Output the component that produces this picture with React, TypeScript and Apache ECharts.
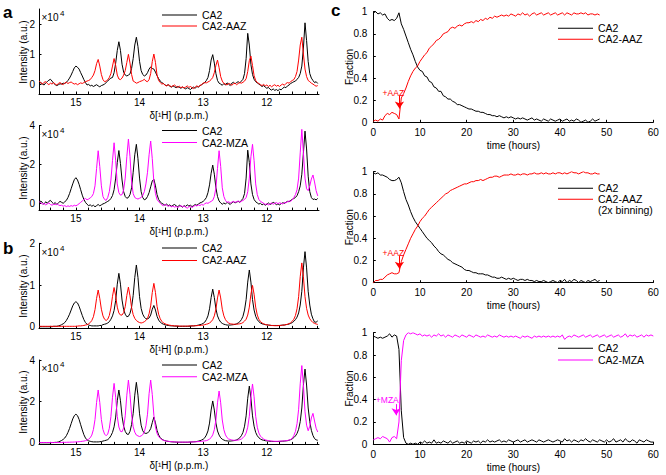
import React, { useEffect, useRef } from "react";
import * as echarts from "echarts";

const FONT = '"Liberation Sans", Arial, Helvetica, sans-serif';
const BLACK = "#000000";
const RED = "#ff0000";
const MAGENTA = "#ff00ff";

// chemical-shift sampling grid: 15.575 ppm downward in 0.025 ppm steps (176 samples)
const PPM_START = 15.575;
const PPM_STEP = 0.025;
const PPM_TICKS = [11.2, 11.4, 11.6, 11.8, 12, 12.2, 12.4, 12.6, 12.8, 13, 13.2, 13.4, 13.6, 13.8, 14, 14.2, 14.4, 14.6, 14.8, 15, 15.2, 15.4];
const PPM_LABELS = [12, 13, 14, 15];

// ---- panel a (measured), intensities in units of 1e4 ----
const aTopCA2 = [
  0.02, 0.05, 0.0, -0.03, 0.04, 0.08, 0.13, 0.16, 0.1, 0.03,
  -0.02, -0.05, -0.02, 0.01, 0.0, 0.03, 0.02, 0.06, 0.12, 0.2,
  0.3, 0.42, 0.54, 0.6, 0.56, 0.5, 0.38, 0.27, 0.15, 0.05,
  -0.03, -0.01, -0.06, -0.04, -0.08, -0.05, -0.02, -0.06, -0.09, -0.05,
  -0.03, 0.0, 0.05, 0.1, 0.16, 0.2, 0.22, 0.38, 0.7, 1.12,
  1.41, 1.12, 0.66, 0.4, 0.3, 0.27, 0.3, 0.34, 0.52, 0.85,
  1.3, 1.56, 1.25, 0.76, 0.45, 0.32, 0.27, 0.3, 0.38, 0.5,
  0.57, 0.52, 0.5, 0.4, 0.28, 0.18, 0.1, 0.05, 0.02, -0.03,
  -0.05, -0.02, -0.07, -0.1, -0.06, -0.09, -0.12, -0.08, -0.11, -0.14,
  -0.1, -0.13, -0.16, -0.12, -0.15, -0.18, -0.13, -0.1, -0.14, -0.08,
  -0.1, -0.05, -0.02, 0.02, 0.05, 0.12, 0.22, 0.45, 0.8, 0.98,
  0.7, 0.35, 0.12, 0.03, 0.0, -0.04, 0.02, -0.03, 0.04, 0.0,
  -0.05, 0.03, 0.06, 0.01, 0.05, 0.08, 0.04, 0.1, 0.16, 0.35,
  0.85, 1.69, 1.3, 0.65, 0.32, 0.16, 0.08, 0.04, 0.0, -0.04,
  -0.08, -0.05, -0.1, -0.14, -0.11, -0.17, -0.2, -0.16, -0.21, -0.18,
  -0.22, -0.17, -0.19, -0.14, -0.1, -0.12, -0.06, -0.03, 0.02, 0.05,
  0.08, 0.1, 0.16, 0.22, 0.35, 0.6, 1.2, 2.04, 1.45, 0.75,
  0.35, 0.2, 0.12, 0.05, 0.08, 0.02,
];
const aTopAAZ = [
  0.1, 0.04, 0.0, 0.06, 0.08, 0.02, -0.02, 0.03, 0.0, 0.05,
  0.0, -0.03, 0.02, 0.05, 0.01, -0.02, 0.04, 0.06, 0.02, 0.05,
  0.07, 0.03, 0.0, 0.02, -0.02, 0.01, 0.04, 0.02, 0.05, 0.08,
  0.1, 0.12, 0.15, 0.22, 0.3, 0.45, 0.68, 0.82, 0.6, 0.32,
  0.15, 0.08, 0.1, 0.14, 0.22, 0.35, 0.6, 0.85, 0.62, 0.3,
  0.17, 0.15, 0.2, 0.3, 0.45, 0.72, 0.99, 0.7, 0.32, 0.1,
  0.07, 0.03, 0.05, 0.08, 0.1, 0.12, 0.16, 0.1, 0.08, 0.15,
  0.35, 0.75, 1.0, 0.72, 0.3, 0.12, 0.05, 0.0, 0.02, -0.04,
  -0.06, -0.02, -0.05, -0.09, -0.06, -0.03, -0.08, -0.11, -0.07, -0.12,
  -0.09, -0.13, -0.1, -0.06, -0.11, -0.08, -0.12, -0.15, -0.1, -0.06,
  -0.09, -0.05, -0.02, 0.03, 0.05, 0.04, 0.07, 0.1, 0.15, 0.22,
  0.38, 0.62, 0.8, 0.55, 0.25, 0.1, 0.02, 0.0, -0.03, 0.02,
  0.0, -0.04, 0.01, 0.03, -0.02, 0.02, 0.05, 0.03, 0.06, 0.1,
  0.18, 0.42, 0.78, 0.93, 0.62, 0.28, 0.12, 0.05, 0.02, -0.02,
  -0.05, -0.01, -0.06, -0.03, -0.08, -0.04, -0.09, -0.05, -0.02, -0.07,
  -0.04, -0.08, -0.03, 0.0, -0.04, 0.02, 0.05, 0.03, 0.08, 0.12,
  0.15, 0.25, 0.42, 0.8, 1.3, 1.56, 1.0, 0.5, 0.25, 0.12,
  0.08, 0.03, 0.0, -0.04, -0.07, -0.05,
];
const aBotCA2 = [
  0.05, 0.12, 0.02, -0.05, 0.08, 0.0, 0.1, 0.15, 0.05, -0.03,
  0.04, -0.06, 0.02, 0.1, 0.05, 0.0, 0.08, 0.15, 0.3, 0.5,
  0.75, 1.0, 1.22, 1.32, 1.2, 0.98, 0.7, 0.42, 0.2, 0.05,
  -0.05, -0.12, -0.08, -0.15, -0.1, -0.18, -0.12, -0.06, -0.13, -0.08,
  -0.03, 0.0, 0.05, 0.1, 0.15, 0.25, 0.4, 0.7, 1.3, 2.1,
  2.72, 2.05, 1.2, 0.6, 0.35, 0.26, 0.3, 0.45, 0.8, 1.6,
  2.5, 3.04, 2.3, 1.3, 0.6, 0.3, 0.18, 0.22, 0.35, 0.55,
  0.85, 1.15, 1.24, 0.9, 0.45, 0.2, 0.07, 0.0, -0.05, -0.1,
  -0.04, -0.12, -0.08, -0.15, -0.1, -0.06, -0.13, -0.18, -0.1, -0.14,
  -0.2, -0.12, -0.16, -0.08, -0.14, -0.1, -0.17, -0.12, -0.06, -0.1,
  -0.04, 0.02, 0.05, 0.1, 0.18, 0.3, 0.55, 0.95, 1.55, 1.97,
  1.5, 0.8, 0.35, 0.12, 0.02, -0.05, 0.02, -0.04, 0.05, 0.0,
  -0.06, 0.03, 0.08, 0.02, 0.06, 0.1, 0.05, 0.15, 0.25, 0.5,
  1.3, 2.74, 2.1, 1.0, 0.45, 0.2, 0.08, 0.02, -0.04, 0.0,
  -0.08, -0.03, -0.1, -0.05, 0.02, -0.06, -0.02, 0.05, 0.0, -0.07,
  -0.03, -0.08, -0.02, 0.03, 0.0, 0.05, 0.1, 0.08, 0.15, 0.2,
  0.25, 0.3, 0.4, 0.6, 0.9, 1.5, 2.6, 3.72, 2.8, 1.4,
  0.6, 0.3, 0.2, 0.22, 0.18, 0.25,
];
const aBotMZA = [
  0.08, 0.02, -0.05, 0.0, -0.08, -0.03, 0.02, -0.06, -0.1, -0.04,
  -0.07, -0.02, -0.08, -0.12, -0.1, -0.15, -0.12, -0.17, -0.13, -0.16,
  -0.12, -0.15, -0.1, -0.13, -0.08, -0.02, 0.05, 0.12, 0.2, 0.25,
  0.18, 0.22, 0.28, 0.35, 0.5, 0.9, 1.8, 2.71, 1.9, 0.9,
  0.35, 0.2, 0.15, 0.3, 0.6, 1.2, 2.2, 3.12, 2.2, 1.0,
  0.55, 0.42, 0.45, 0.7, 1.3, 2.4, 3.31, 2.4, 1.1, 0.5,
  0.3, 0.25, 0.22, 0.26, 0.3, 0.4, 0.6, 1.0, 1.6, 2.5,
  3.21, 2.3, 1.1, 0.5, 0.2, 0.08, 0.0, -0.08, -0.12, -0.06,
  -0.1, -0.15, -0.12, -0.18, -0.14, -0.2, -0.16, -0.22, -0.17, -0.12,
  -0.18, -0.14, -0.2, -0.25, -0.18, -0.15, -0.22, -0.16, -0.1, -0.14,
  -0.08, -0.12, -0.05, -0.1, -0.02, 0.02, 0.0, 0.05, 0.1, 0.15,
  0.35, 0.8, 1.8, 2.71, 1.9, 0.8, 0.35, 0.15, 0.05, 0.08,
  0.02, 0.06, 0.1, 0.05, 0.08, 0.12, 0.06, 0.1, 0.15, 0.2,
  0.3, 0.6, 1.3, 2.4, 3.04, 2.2, 1.0, 0.45, 0.2, 0.1,
  0.05, 0.0, -0.06, -0.02, -0.08, -0.04, 0.02, -0.05, 0.0, 0.04,
  -0.02, 0.03, 0.0, -0.04, 0.05, 0.02, 0.08, 0.12, 0.1, 0.18,
  0.3, 0.45, 0.7, 1.3, 2.6, 3.81, 2.6, 1.3, 0.75, 0.65,
  0.9, 1.25, 1.46, 1.1, 0.65, 0.38,
];

// ---- panel b (simulated) ----
const bTopCA2 = [
  0, 0, 0, 0, 0, 0, 0, 0, 0, 0.01,
  0.01, 0.01, 0.02, 0.03, 0.05, 0.07, 0.1, 0.15, 0.22, 0.3,
  0.4, 0.5, 0.57, 0.6, 0.57, 0.49, 0.38, 0.27, 0.17, 0.1,
  0.06, 0.04, 0.03, 0.02, 0.02, 0.02, 0.02, 0.02, 0.03, 0.03,
  0.05, 0.06, 0.07, 0.09, 0.12, 0.18, 0.26, 0.39, 0.63, 1.02,
  1.28, 1.02, 0.64, 0.41, 0.3, 0.24, 0.25, 0.32, 0.47, 0.75,
  1.18, 1.48, 1.18, 0.72, 0.44, 0.3, 0.23, 0.19, 0.19, 0.21,
  0.28, 0.42, 0.51, 0.4, 0.25, 0.16, 0.11, 0.08, 0.06, 0.045,
  0.036, 0.03, 0.025, 0.02, 0.02, 0.015, 0.015, 0.01, 0.01, 0.01,
  0.01, 0.01, 0.01, 0.01, 0.01, 0.015, 0.02, 0.02, 0.025, 0.03,
  0.04, 0.05, 0.06, 0.08, 0.11, 0.17, 0.26, 0.43, 0.7, 0.9,
  0.7, 0.43, 0.26, 0.17, 0.11, 0.08, 0.06, 0.05, 0.04, 0.04,
  0.04, 0.045, 0.05, 0.055, 0.07, 0.09, 0.12, 0.17, 0.25, 0.4,
  0.65, 1.07, 1.36, 1.07, 0.65, 0.4, 0.25, 0.17, 0.12, 0.09,
  0.07, 0.06, 0.05, 0.045, 0.04, 0.035, 0.03, 0.03, 0.03, 0.03,
  0.03, 0.03, 0.035, 0.04, 0.04, 0.05, 0.055, 0.065, 0.08, 0.1,
  0.13, 0.17, 0.23, 0.33, 0.52, 0.85, 1.41, 1.8, 1.41, 0.85,
  0.52, 0.3, 0.19, 0.11, 0.11, 0.14,
];
const bTopAAZ = [
  0.01, 0.01, 0.01, 0.01, 0.01, 0.01, 0.01, 0.01, 0.01, 0.01,
  0.01, 0.01, 0.01, 0.01, 0.01, 0.01, 0.01, 0.01, 0.01, 0.01,
  0.01, 0.01, 0.01, 0.01, 0.015, 0.02, 0.02, 0.025, 0.03, 0.04,
  0.05, 0.07, 0.1, 0.15, 0.24, 0.41, 0.68, 0.88, 0.68, 0.42,
  0.26, 0.18, 0.15, 0.18, 0.27, 0.45, 0.73, 0.94, 0.74, 0.47,
  0.33, 0.28, 0.28, 0.34, 0.48, 0.75, 0.95, 0.74, 0.46, 0.29,
  0.2, 0.15, 0.12, 0.1, 0.09, 0.1, 0.12, 0.15, 0.2, 0.31,
  0.5, 0.82, 1.04, 0.82, 0.49, 0.3, 0.19, 0.13, 0.09, 0.07,
  0.055, 0.045, 0.036, 0.03, 0.025, 0.02, 0.02, 0.02, 0.015, 0.015,
  0.015, 0.015, 0.015, 0.015, 0.02, 0.02, 0.02, 0.02, 0.025, 0.025,
  0.03, 0.03, 0.035, 0.04, 0.05, 0.06, 0.07, 0.09, 0.12, 0.17,
  0.26, 0.42, 0.69, 0.88, 0.69, 0.42, 0.26, 0.17, 0.12, 0.09,
  0.07, 0.065, 0.06, 0.06, 0.06, 0.065, 0.07, 0.08, 0.1, 0.135,
  0.18, 0.28, 0.47, 0.78, 0.99, 0.78, 0.47, 0.28, 0.18, 0.125,
  0.09, 0.07, 0.055, 0.045, 0.04, 0.035, 0.03, 0.028, 0.025, 0.025,
  0.025, 0.03, 0.032, 0.038, 0.042, 0.05, 0.06, 0.075, 0.095, 0.13,
  0.18, 0.27, 0.43, 0.72, 1.2, 1.53, 1.2, 0.72, 0.44, 0.28,
  0.19, 0.14, 0.1, 0.08, 0.066, 0.055,
];
const bBotCA2 = [
  0, 0, 0, 0, 0, 0, 0, 0, 0.01, 0.01,
  0.02, 0.02, 0.04, 0.07, 0.11, 0.16, 0.23, 0.34, 0.5, 0.69,
  0.92, 1.15, 1.31, 1.38, 1.31, 1.13, 0.87, 0.62, 0.39, 0.23,
  0.14, 0.09, 0.07, 0.05, 0.04, 0.04, 0.04, 0.04, 0.05, 0.06,
  0.08, 0.1, 0.12, 0.15, 0.22, 0.34, 0.5, 0.77, 1.24, 2.03,
  2.55, 2.03, 1.28, 0.8, 0.55, 0.42, 0.4, 0.55, 0.88, 1.42,
  2.3, 2.92, 2.3, 1.4, 0.85, 0.58, 0.47, 0.45, 0.47, 0.55,
  0.68, 0.97, 1.24, 0.96, 0.6, 0.38, 0.25, 0.17, 0.13, 0.1,
  0.08, 0.065, 0.055, 0.045, 0.04, 0.035, 0.03, 0.025, 0.025, 0.025,
  0.025, 0.025, 0.025, 0.025, 0.03, 0.035, 0.04, 0.045, 0.05, 0.06,
  0.08, 0.1, 0.13, 0.17, 0.24, 0.37, 0.57, 0.95, 1.58, 2.02,
  1.58, 0.95, 0.57, 0.37, 0.24, 0.17, 0.13, 0.1, 0.09, 0.08,
  0.08, 0.09, 0.1, 0.11, 0.14, 0.18, 0.24, 0.34, 0.5, 0.8,
  1.3, 2.15, 2.74, 2.15, 1.3, 0.8, 0.5, 0.34, 0.24, 0.18,
  0.14, 0.12, 0.1, 0.09, 0.08, 0.07, 0.065, 0.06, 0.06, 0.06,
  0.06, 0.065, 0.07, 0.075, 0.08, 0.09, 0.1, 0.12, 0.15, 0.19,
  0.25, 0.33, 0.45, 0.65, 1.02, 1.68, 2.79, 3.56, 2.79, 1.68,
  1.02, 0.6, 0.35, 0.2, 0.14, 0.12,
];
const bBotMZA = [
  0.01, 0.01, 0.01, 0.01, 0.01, 0.01, 0.01, 0.01, 0.01, 0.01,
  0.01, 0.01, 0.01, 0.015, 0.015, 0.02, 0.02, 0.02, 0.025, 0.025,
  0.03, 0.03, 0.035, 0.04, 0.045, 0.05, 0.06, 0.07, 0.08, 0.1,
  0.13, 0.17, 0.24, 0.37, 0.64, 1.12, 1.95, 2.55, 1.95, 1.12,
  0.64, 0.42, 0.34, 0.42, 0.7, 1.26, 2.2, 2.87, 2.2, 1.27,
  0.76, 0.55, 0.53, 0.72, 1.3, 2.3, 3.03, 2.33, 1.35, 0.77,
  0.51, 0.37, 0.33, 0.3, 0.33, 0.39, 0.53, 0.82, 1.38, 2.37,
  3.03, 2.33, 1.33, 0.76, 0.45, 0.3, 0.21, 0.15, 0.12, 0.09,
  0.08, 0.07, 0.06, 0.05, 0.045, 0.04, 0.035, 0.03, 0.03, 0.03,
  0.03, 0.03, 0.03, 0.03, 0.03, 0.035, 0.04, 0.04, 0.045, 0.05,
  0.055, 0.06, 0.07, 0.08, 0.09, 0.1, 0.13, 0.18, 0.25, 0.38,
  0.63, 1.1, 1.93, 2.5, 1.93, 1.1, 0.63, 0.38, 0.25, 0.18,
  0.16, 0.13, 0.12, 0.12, 0.12, 0.13, 0.15, 0.18, 0.24, 0.32,
  0.47, 0.75, 1.28, 2.22, 2.84, 2.22, 1.28, 0.75, 0.47, 0.32,
  0.24, 0.18, 0.14, 0.12, 0.1, 0.09, 0.08, 0.075, 0.07, 0.07,
  0.07, 0.075, 0.08, 0.085, 0.09, 0.1, 0.11, 0.13, 0.16, 0.21,
  0.35, 0.55, 0.92, 1.62, 2.85, 3.73, 2.8, 1.5, 0.85, 0.58,
  0.8, 1.2, 1.42, 1.05, 0.7, 0.52,
];

// ---- panel c: fractions sampled every 0.5 h from t = 0 ----
const T_STEP = 0.5;
const cTopCA2 = [
  0.99, 1.0, 0.98, 0.99, 0.97, 0.98, 0.94, 0.92, 0.93, 0.92,
  0.94, 0.99, 0.89, 0.84, 0.78, 0.72, 0.66, 0.61, 0.55, 0.5,
  0.47, 0.46, 0.42, 0.41, 0.37, 0.36, 0.32, 0.31, 0.28, 0.28,
  0.24, 0.23, 0.21, 0.21, 0.19, 0.18, 0.16, 0.16, 0.15, 0.14,
  0.13, 0.12, 0.12, 0.11, 0.1, 0.1, 0.09, 0.09, 0.08, 0.07,
  0.07, 0.06, 0.06, 0.05, 0.06, 0.05, 0.04, 0.05, 0.04, 0.05,
  0.04, 0.03, 0.04, 0.03, 0.04, 0.03, 0.02, 0.03, 0.04, 0.02,
  0.03, 0.02, 0.01, 0.03, 0.02, 0.01, 0.03, 0.02, 0.01, 0.02,
  0.03, 0.01, 0.02, 0.03, 0.01, 0.02, 0.01, 0.03, 0.02, 0.0,
  0.01, 0.02, 0.0, 0.01, 0.03, 0.01, 0.02, 0.03,
];
const cTopAAZ = [
  0.01, 0.02, 0.01, 0.03, 0.02, 0.06, 0.08, 0.07, 0.09, 0.08,
  0.07, 0.03, 0.22, 0.26, 0.31, 0.37, 0.42, 0.46, 0.49, 0.51,
  0.55, 0.58, 0.61, 0.63, 0.67, 0.69, 0.71, 0.74, 0.75, 0.77,
  0.8, 0.81, 0.82, 0.85, 0.86, 0.85, 0.87, 0.88, 0.87, 0.89,
  0.9, 0.9, 0.91, 0.9, 0.92, 0.91, 0.93, 0.92, 0.94, 0.93,
  0.95, 0.94, 0.96, 0.95, 0.96, 0.97, 0.96, 0.97, 0.96, 0.98,
  0.97, 0.96, 0.98, 0.97, 0.99, 0.97, 0.98, 0.96, 0.98, 0.99,
  0.97, 0.98, 0.99, 0.97, 0.98, 0.99, 0.97, 0.98, 0.99, 0.97,
  0.98, 0.99, 0.97, 0.99, 0.98, 0.97, 0.99, 0.98, 0.98, 0.99,
  0.98, 0.99, 0.97, 0.98, 0.98, 0.97, 0.98, 0.97,
];
const cMidCA2 = [
  0.99, 0.98, 0.99, 0.97, 0.97, 0.96, 0.95, 0.93, 0.92, 0.92,
  0.93, 0.95, 0.9, 0.82, 0.75, 0.7, 0.64, 0.59, 0.55, 0.52,
  0.49, 0.46, 0.43, 0.4, 0.38, 0.36, 0.33, 0.31, 0.28, 0.26,
  0.25, 0.23, 0.21, 0.2, 0.18, 0.17, 0.16, 0.15, 0.14, 0.12,
  0.11, 0.11, 0.1, 0.09, 0.09, 0.08, 0.08, 0.08, 0.07, 0.07,
  0.06, 0.05, 0.05, 0.04, 0.04, 0.05, 0.04, 0.03, 0.04, 0.03,
  0.04, 0.03, 0.02, 0.03, 0.03, 0.02, 0.03, 0.02, 0.02, 0.01,
  0.02, 0.01, 0.01, 0.02, 0.01, 0.0, 0.01, 0.02, 0.01, 0.0,
  0.02, 0.01, 0.03, 0.0, 0.02, 0.01, 0.03, 0.02, 0.0, 0.02,
  0.01, 0.0, 0.02, 0.01, 0.02, 0.03, 0.01, 0.02,
];
const cMidAAZ = [
  0.0, 0.02, 0.02, 0.03, 0.03, 0.05, 0.07, 0.08, 0.09, 0.08,
  0.08, 0.09, 0.19, 0.25, 0.3, 0.35, 0.4, 0.44, 0.48, 0.51,
  0.55, 0.58, 0.6, 0.63, 0.66, 0.68, 0.7, 0.72, 0.74, 0.76,
  0.78, 0.8, 0.81, 0.83, 0.84, 0.85, 0.86, 0.87, 0.88, 0.89,
  0.89, 0.9, 0.91, 0.91, 0.92, 0.92, 0.93, 0.92, 0.93, 0.94,
  0.95, 0.95, 0.96, 0.96, 0.95, 0.96, 0.97, 0.97, 0.97, 0.98,
  0.97, 0.97, 0.98, 0.97, 0.98, 0.98, 0.97, 0.98, 0.98, 0.99,
  0.98, 0.98, 0.99, 0.98, 0.99, 0.98, 0.98, 0.99, 0.98, 0.99,
  0.99, 0.98, 0.99, 0.98, 0.99, 1.0, 0.99, 0.99, 0.98, 0.99,
  1.0, 0.99, 0.99, 0.98, 0.98, 0.99, 0.98, 0.98,
];
const cBotCA2 = [
  0.97, 0.96, 0.95, 0.96, 0.95, 0.96, 0.97, 0.99, 0.96, 0.98,
  0.97, 0.85, 0.3, 0.06, 0.01, 0.0, 0.01, 0.0, 0.01, 0.0,
  0.02, 0.01, 0.03, 0.01, 0.02, 0.01, 0.04, 0.01, 0.02, 0.01,
  0.03, 0.02, 0.01, 0.03, 0.01, 0.02, 0.03, 0.01, 0.02, 0.01,
  0.03, 0.02, 0.01, 0.03, 0.02, 0.03, 0.01, 0.03, 0.02, 0.04,
  0.02, 0.03, 0.02, 0.03, 0.04, 0.02, 0.03, 0.02, 0.04, 0.03,
  0.02, 0.03, 0.04, 0.02, 0.03, 0.04, 0.02, 0.03, 0.04, 0.03,
  0.02, 0.04, 0.03, 0.02, 0.03, 0.04, 0.03, 0.02, 0.03, 0.04,
  0.03, 0.02, 0.05, 0.03, 0.04, 0.02, 0.04, 0.03, 0.02, 0.04,
  0.03, 0.05, 0.03, 0.02, 0.04, 0.03, 0.02, 0.04, 0.03, 0.02,
  0.04, 0.02, 0.03, 0.05, 0.02, 0.03, 0.04, 0.02, 0.05, 0.03,
  0.02, 0.04, 0.03, 0.01, 0.04, 0.03, 0.02, 0.04, 0.03, 0.02,
  0.02,
];
const cBotMZA = [
  0.04, 0.05, 0.06, 0.05, 0.07, 0.06, 0.05, 0.02, 0.06, 0.07,
  0.05, 0.2, 0.75, 0.93, 0.98, 1.0, 0.99, 1.0, 0.99, 0.98,
  0.99, 0.97, 0.98, 0.97, 0.98, 0.96, 0.98, 0.97, 0.99, 0.97,
  0.98, 0.96, 0.98, 0.97, 0.96, 0.98, 0.97, 0.96, 0.98, 0.97,
  0.96, 0.98, 0.97, 0.96, 0.98, 0.97, 0.96, 0.97, 0.96, 0.98,
  0.97, 0.96, 0.97, 0.96, 0.98, 0.97, 0.96, 0.97, 0.96, 0.97,
  0.96, 0.97, 0.96, 0.95, 0.97, 0.96, 0.97, 0.96, 0.95, 0.97,
  0.96, 0.97, 0.96, 0.97, 0.96, 0.97, 0.96, 0.97, 0.96, 0.97,
  0.96, 0.98, 0.94, 0.96, 0.97, 0.96, 0.98, 0.97, 0.96, 0.97,
  0.98, 0.96, 0.97, 0.98, 0.96, 0.97, 0.98, 0.96, 0.97, 0.98,
  0.96, 0.97, 0.98, 0.96, 0.97, 0.98, 0.96, 0.97, 0.99, 0.96,
  0.98, 0.97, 0.98, 0.96, 0.97, 0.98, 0.96, 0.98, 0.97, 0.98,
  0.97,
];

// annotation anchors (data coordinates: hours, fraction)
const AAZ_ARROW = [[5.6, 0.24], [5.6, 0.125]];
const AAZ_TEXT = [4.3, 0.265];
const MZA_ARROW = [[4.9, 0.36], [4.9, 0.26]];
const MZA_TEXT = [3.0, 0.4];

const spec = (ys: number[]) => ys.map((y, i) => [+(PPM_START - PPM_STEP * i).toFixed(3), y]);
const times = (ys: number[]) => ys.map((y, i) => [i * T_STEP, y]);

const txt = { color: BLACK, fontFamily: FONT };

function specX(gridIndex: number) {
  return {
    type: "value", gridIndex, inverse: true, min: 11.18, max: 15.58,
    axisLine: { show: true, onZero: false, lineStyle: { color: BLACK, width: 1 } },
    axisTick: { show: true, inside: true, length: 2.5, customValues: PPM_TICKS, lineStyle: { color: BLACK } },
    axisLabel: { customValues: PPM_LABELS, fontSize: 10, margin: 3, ...txt },
    splitLine: { show: false },
    name: "δ[¹H] (p.p.m.)", nameLocation: "middle", nameGap: 16, nameMoveOverlap: false,
    nameTextStyle: { fontSize: 10, ...txt },
  };
}
function specY(gridIndex: number, min: number, max: number, labels: number[]) {
  return {
    type: "value", gridIndex, min, max,
    axisLine: { show: true, onZero: false, lineStyle: { color: BLACK, width: 1 } },
    axisTick: { show: true, inside: true, length: 2.5, customValues: labels, lineStyle: { color: BLACK } },
    axisLabel: { customValues: labels, fontSize: 10, margin: 4, ...txt },
    splitLine: { show: false },
  };
}
function timeX(gridIndex: number) {
  return {
    type: "value", gridIndex, min: 0, max: 60, interval: 10,
    axisLine: { show: true, onZero: false, lineStyle: { color: BLACK, width: 1 } },
    axisTick: { show: true, inside: true, length: 2.5, lineStyle: { color: BLACK } },
    axisLabel: { fontSize: 10, margin: 5, ...txt },
    splitLine: { show: false },
    name: "time (hours)", nameLocation: "middle", nameGap: 18, nameMoveOverlap: false,
    nameTextStyle: { fontSize: 10, ...txt },
  };
}
function fracY(gridIndex: number) {
  return {
    type: "value", gridIndex, min: 0, max: 1, interval: 0.2,
    axisLine: { show: true, onZero: false, lineStyle: { color: BLACK, width: 1 } },
    axisTick: { show: true, inside: true, length: 2.5, lineStyle: { color: BLACK } },
    axisLabel: { fontSize: 10, margin: 6, ...txt },
    splitLine: { show: false },
    name: "Fraction", nameLocation: "middle", nameGap: 19, nameMoveOverlap: false,
    nameTextStyle: { fontSize: 10, ...txt },
  };
}
function line(name: string, idx: number, data: number[][], color: string, extra: any = {}) {
  return {
    type: "line", name, xAxisIndex: idx, yAxisIndex: idx, data,
    symbol: "none", showSymbol: false, silent: true, clip: true,
    lineStyle: { color, width: 1 }, itemStyle: { color },
    emphasis: { disabled: true },
    ...extra,
  };
}
function annotation(color: string, arrow: number[][], textPos: number[], label: string) {
  return {
    markLine: {
      silent: true, symbol: ["none", "arrow"], symbolSize: 7,
      lineStyle: { color, width: 1, type: "solid" },
      itemStyle: { color },
      label: { show: false }, emphasis: { disabled: true },
      data: [[{ coord: arrow[0] }, { coord: arrow[1] }]],
    },
    markPoint: {
      silent: true, symbol: "rect", symbolSize: 1,
      itemStyle: { color: "rgba(0,0,0,0)" },
      label: { show: true, position: "inside", formatter: label, color, fontSize: 8.5, fontFamily: FONT },
      data: [{ coord: textPos }],
    },
  };
}
function legend(names: string[], left: number, top: number, gap: number) {
  return {
    data: names, left, top, orient: "vertical", icon: "rect", itemWidth: 35, itemHeight: 1, itemGap: gap,
    padding: 0, selectedMode: false,
    textStyle: { fontSize: 10.5, lineHeight: 11, ...txt },
  };
}
function gtext(text: string, x: number, y: number, size: number, bold = false, color = BLACK, align = "left", rotation = 0) {
  return {
    type: "text", x, y, rotation, silent: true,
    style: { text, fill: color, font: `${bold ? "bold " : ""}${size}px ${FONT}`, align, verticalAlign: "middle", textAlign: align, textVerticalAlign: "middle" },
  };
}
const yName = (cy: number) => gtext("Intensity (a.u.)", 23.5, cy, 10, false, BLACK, "center", Math.PI / 2);

const option: any = {
  animation: false,
  backgroundColor: "#ffffff",
  textStyle: { fontFamily: FONT },
  grid: [
    { left: 39, top: 9, width: 280, height: 85 },
    { left: 39, top: 125.7, width: 280, height: 84.4 },
    { left: 39, top: 243.3, width: 280, height: 85.1 },
    { left: 39, top: 360, width: 280, height: 84.4 },
    { left: 373.3, top: 11.7, width: 280, height: 110.6 },
    { left: 373.3, top: 171.7, width: 280, height: 111 },
    { left: 373.3, top: 332.7, width: 280, height: 111.6 },
  ],
  xAxis: [specX(0), specX(1), specX(2), specX(3), timeX(4), timeX(5), timeX(6)],
  yAxis: [
    specY(0, -0.33, 2.5, [0, 1, 2]),
    specY(1, -0.35, 4, [0, 2, 4]),
    specY(2, -0.04, 2, [0, 1, 2]),
    specY(3, -0.08, 4, [0, 2, 4]),
    fracY(4), fracY(5), fracY(6),
  ],
  legend: [
    legend(["CA2", "CA2-AAZ"], 162, 9.5, 0),
    legend(["CA2", "CA2-MZA"], 162, 125, 1),
    legend(["CA2", "CA2-AAZ"], 162, 242.5, 1.4),
    legend(["CA2", "CA2-MZA"], 162, 359.5, 0.7),
    legend(["CA2", "CA2-AAZ"], 558, 22.8, 0),
    legend(["CA2", "CA2-AAZ"], 558, 182.8, 0),
    legend(["CA2", "CA2-MZA"], 558, 342.8, 0.7),
  ],
  series: [
    line("CA2", 0, spec(aTopCA2), BLACK),
    line("CA2-AAZ", 0, spec(aTopAAZ), RED),
    line("CA2", 1, spec(aBotCA2), BLACK),
    line("CA2-MZA", 1, spec(aBotMZA), MAGENTA),
    line("CA2", 2, spec(bTopCA2), BLACK),
    line("CA2-AAZ", 2, spec(bTopAAZ), RED),
    line("CA2", 3, spec(bBotCA2), BLACK),
    line("CA2-MZA", 3, spec(bBotMZA), MAGENTA),
    line("CA2", 4, times(cTopCA2), BLACK),
    line("CA2-AAZ", 4, times(cTopAAZ), RED, annotation(RED, AAZ_ARROW, AAZ_TEXT, "+AAZ")),
    line("CA2", 5, times(cMidCA2), BLACK),
    line("CA2-AAZ", 5, times(cMidAAZ), RED, annotation(RED, AAZ_ARROW, AAZ_TEXT, "+AAZ")),
    line("CA2", 6, times(cBotCA2), BLACK),
    line("CA2-MZA", 6, times(cBotMZA), MAGENTA, annotation(MAGENTA, MZA_ARROW, MZA_TEXT, "+MZA")),
  ],
  graphic: [
    gtext("a", 3, 12.3, 17, true),
    gtext("b", 3, 248, 17, true),
    gtext("c", 331, 10.7, 17, true),
    gtext("×10", 41.5, 17.3, 10), gtext("4", 60, 13.5, 8),
    gtext("×10", 41.5, 134, 10), gtext("4", 60, 130.2, 8),
    gtext("×10", 41.5, 252.7, 10), gtext("4", 60, 248.9, 8),
    gtext("×10", 41.5, 368.3, 10), gtext("4", 60, 364.5, 8),
    gtext("(2x binning)", 598, 210, 10.5),
    yName(52), yName(168), yName(286), yName(402),
  ],
};

export default function App() {
  const ref = useRef<HTMLDivElement>(null);
  useEffect(() => {
    const chart = echarts.init(ref.current!, null, { renderer: "svg" });
    chart.setOption(option);
    return () => chart.dispose();
  }, []);
  return (
    <div
      ref={ref}
      style={{ position: "absolute", left: 0, top: 0, width: 666, height: 475, background: "#ffffff" }}
    />
  );
}
